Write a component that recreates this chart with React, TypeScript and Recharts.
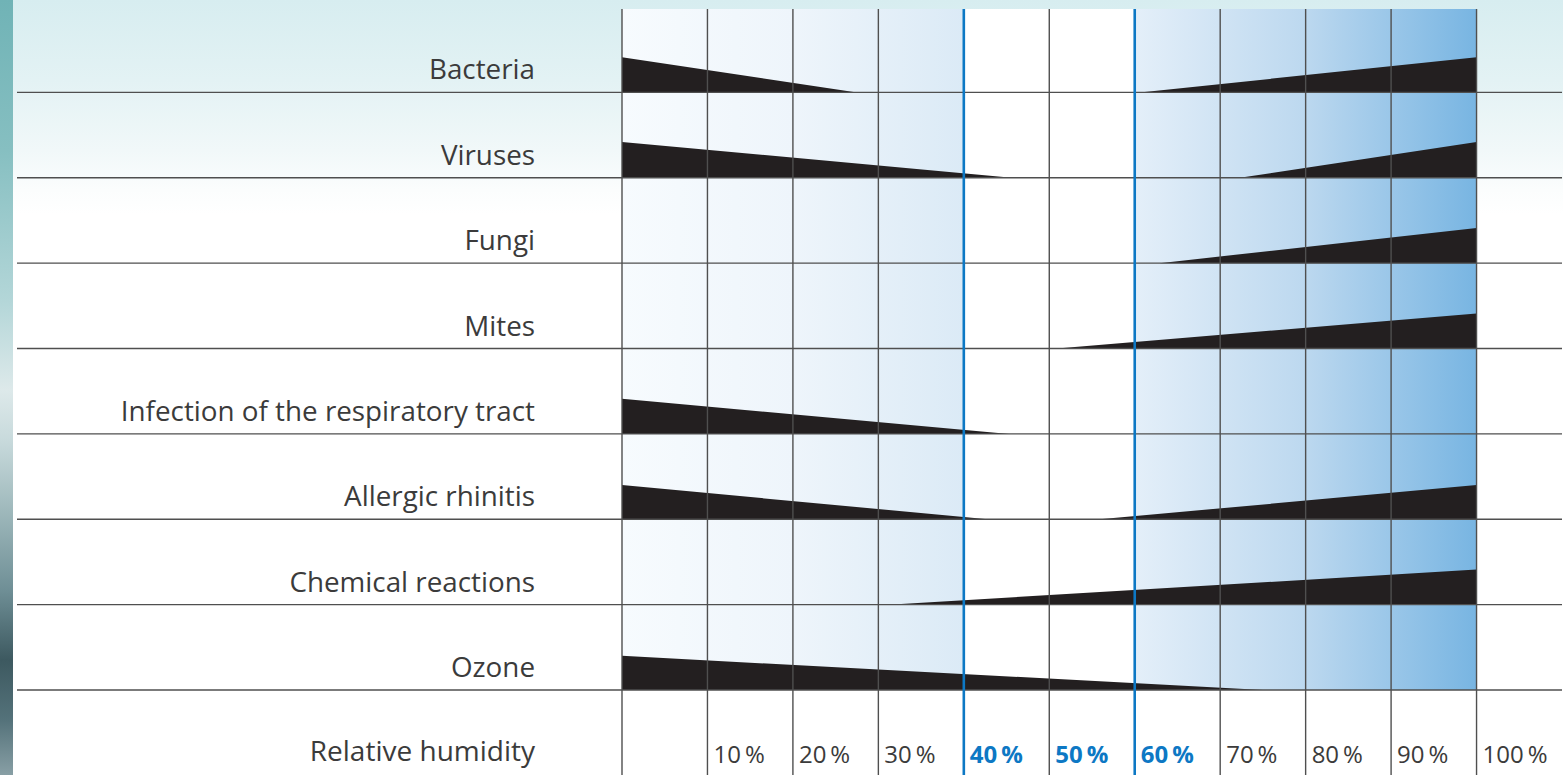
import React from 'react';
import { ComposedChart, Area, XAxis, YAxis, ReferenceLine } from 'recharts';

// ---------- data ----------
const categories = [
  'Bacteria',
  'Viruses',
  'Fungi',
  'Mites',
  'Infection of the respiratory tract',
  'Allergic rhinitis',
  'Chemical reactions',
  'Ozone',
];
// relative humidity (%) where the "too dry" risk wedge fades out (null = none)
const lowRiskEnd: (number | null)[] = [27.5, 45.6, null, null, 45.3, 42.8, null, 75];
// wedge height at 0 % humidity, as share of a row
const lowRiskPeak = [0.41, 0.42, 0, 0, 0.41, 0.4, 0, 0.4];
// relative humidity (%) where the "too humid" risk wedge begins (null = none)
const highRiskStart: (number | null)[] = [60.6, 72.3, 62.9, 50.9, null, 55.9, 31.2, null];
// wedge height at 100 % humidity, as share of a row
const highRiskPeak = [0.41, 0.42, 0.41, 0.41, 0, 0.4, 0.41, 0];

const humidityTicks = [0, 10, 20, 30, 40, 50, 60, 70, 80, 90, 100];
const tickLabels = ['', '10\u2009%', '20\u2009%', '30\u2009%', '40\u2009%', '50\u2009%', '60\u2009%', '70\u2009%', '80\u2009%', '90\u2009%', '100\u2009%'];
const optimumLabels = [40, 50, 60];
const optimumBounds = [40, 60];
const dryZone = [0, 40];
const comfortZone = [40, 60];
const humidZone = [60, 100];
const axisTitle = 'Relative humidity';

// ---------- style ----------
const FONT = '"Open Sans", "Noto Sans", sans-serif';
const TEXT = '#3b3b3b';
const GREY = '#4f4f4f';
const BLUE = '#0d78c4';
const WEDGE = '#231f20';
const ROWS = categories.length;
const TOP = ROWS - 0.023;

const zoneData = (z: number[]) => [
  { x: z[0], v: [0, TOP] },
  { x: z[1], v: [0, TOP] },
];

const wedges = categories.flatMap((c, i) => {
  const base = ROWS - 1 - i;
  const list: { key: string; data: { x: number; v: number[] }[] }[] = [];
  const le = lowRiskEnd[i];
  if (le != null) {
    list.push({
      key: `low-${c}`,
      data: [
        { x: 0, v: [base, base + lowRiskPeak[i]] },
        { x: le, v: [base, base] },
      ],
    });
  }
  const hs = highRiskStart[i];
  if (hs != null) {
    list.push({
      key: `high-${c}`,
      data: [
        { x: hs, v: [base, base] },
        { x: 100, v: [base, base + highRiskPeak[i]] },
      ],
    });
  }
  return list;
});

const RowTick = (props: any) => {
  const { x, y, payload } = props;
  const idx = ROWS - 1 - payload.value;
  return (
    <g>
      <line x1={17} x2={x} y1={y} y2={y} stroke={GREY} strokeWidth={1.4} />
      <text
        x={x - 87}
        y={y - 13}
        textAnchor="end"
        fontFamily={FONT}
        fontSize={27.8}
        fill={TEXT}
      >
        {categories[idx]}
      </text>
    </g>
  );
};

const HumidityTick = (props: any) => {
  const { x, y, payload } = props;
  const v = payload.value as number;
  const i = humidityTicks.indexOf(v);
  const blue = optimumBounds.includes(v);
  const bold = optimumLabels.includes(v);
  return (
    <g>
      <line
        x1={x}
        x2={x}
        y1={y}
        y2={y + 95}
        stroke={blue ? BLUE : GREY}
        strokeWidth={blue ? 2.6 : 1.4}
      />
      {v > 0 && (
        <text
          x={x + 6}
          y={y + 72.5}
          fontFamily={FONT}
          fontSize={24}
          fontWeight={bold ? 700 : 400}
          fill={bold ? BLUE : TEXT}
        >
          {tickLabels[i]}
        </text>
      )}
      {v === 0 && (
        <text
          x={x - 87}
          y={y + 71}
          textAnchor="end"
          fontFamily={FONT}
          fontSize={28}
          fill={TEXT}
        >
          {axisTitle}
        </text>
      )}
    </g>
  );
};

export default function App() {
  return (
    <div
      style={{
        position: 'absolute',
        left: 0,
        top: 0,
        width: 1563,
        height: 775,
        overflow: 'hidden',
        background:
          'linear-gradient(to bottom, #d7edf0 0px, #e3f2f4 80px, #f1f8f9 150px, #fbfdfd 190px, #ffffff 215px)',
      }}
    >
      <div
        style={{
          position: 'absolute',
          left: 0,
          top: 0,
          width: 13,
          height: 775,
          background:
            'linear-gradient(to bottom, #70b3b6 0px, #86bfc1 150px, #b3d6d8 300px, #dde9ea 390px, #c8dadc 440px, #9fb9bc 510px, #6f8f96 590px, #3d5960 660px, #54727a 720px, #889fa5 775px)',
        }}
      />
      <div style={{ position: 'absolute', left: 0, top: 0 }}>
        <ComposedChart width={1563} height={775} margin={{ top: 7, right: 1, bottom: 0, left: 0 }}>
          <defs>
            <linearGradient id="dryGrad" x1="0" y1="0" x2="1" y2="0">
              <stop offset="0%" stopColor="#f7fbfe" />
              <stop offset="50%" stopColor="#eef5fb" />
              <stop offset="100%" stopColor="#dbeaf6" />
            </linearGradient>
            <linearGradient id="humidGrad" x1="0" y1="0" x2="1" y2="0">
              <stop offset="0%" stopColor="#e4eff9" />
              <stop offset="50%" stopColor="#bcd8ef" />
              <stop offset="100%" stopColor="#78b5e2" />
            </linearGradient>
          </defs>
          <XAxis
            type="number"
            dataKey="x"
            domain={[0, 110]}
            ticks={humidityTicks}
            interval={0}
            height={85}
            axisLine={false}
            tickLine={false}
            tickSize={0}
            tickMargin={0}
            tick={<HumidityTick />}
          />
          <YAxis
            type="number"
            domain={[0, ROWS]}
            ticks={[0, 1, 2, 3, 4, 5, 6, 7]}
            interval={0}
            width={622}
            axisLine={false}
            tickLine={false}
            tickSize={0}
            tickMargin={0}
            tick={<RowTick />}
          />
          <Area
            data={zoneData(dryZone)}
            dataKey="v"
            type="linear"
            stroke="none"
            fill="url(#dryGrad)"
            fillOpacity={1}
            dot={false}
            activeDot={false}
            isAnimationActive={false}
          />
          <Area
            data={zoneData(comfortZone)}
            dataKey="v"
            type="linear"
            stroke="none"
            fill="#ffffff"
            fillOpacity={1}
            dot={false}
            activeDot={false}
            isAnimationActive={false}
          />
          <Area
            data={zoneData(humidZone)}
            dataKey="v"
            type="linear"
            stroke="none"
            fill="url(#humidGrad)"
            fillOpacity={1}
            dot={false}
            activeDot={false}
            isAnimationActive={false}
          />
          {wedges.map((w) => (
            <Area
              key={w.key}
              data={w.data}
              dataKey="v"
              type="linear"
              stroke="none"
              fill={WEDGE}
              fillOpacity={1}
              dot={false}
              activeDot={false}
              isAnimationActive={false}
            />
          ))}
          {[0, 1, 2, 3, 4, 5, 6, 7].map((r) => (
            <ReferenceLine key={`h${r}`} y={r} stroke={GREY} strokeWidth={1.4} />
          ))}
          {humidityTicks.map((t) => (
            <ReferenceLine
              key={`v${t}`}
              segment={[
                { x: t, y: 0 },
                { x: t, y: TOP },
              ]}
              stroke={optimumBounds.includes(t) ? BLUE : GREY}
              strokeWidth={optimumBounds.includes(t) ? 2.6 : 1.4}
            />
          ))}
        </ComposedChart>
      </div>
    </div>
  );
}
